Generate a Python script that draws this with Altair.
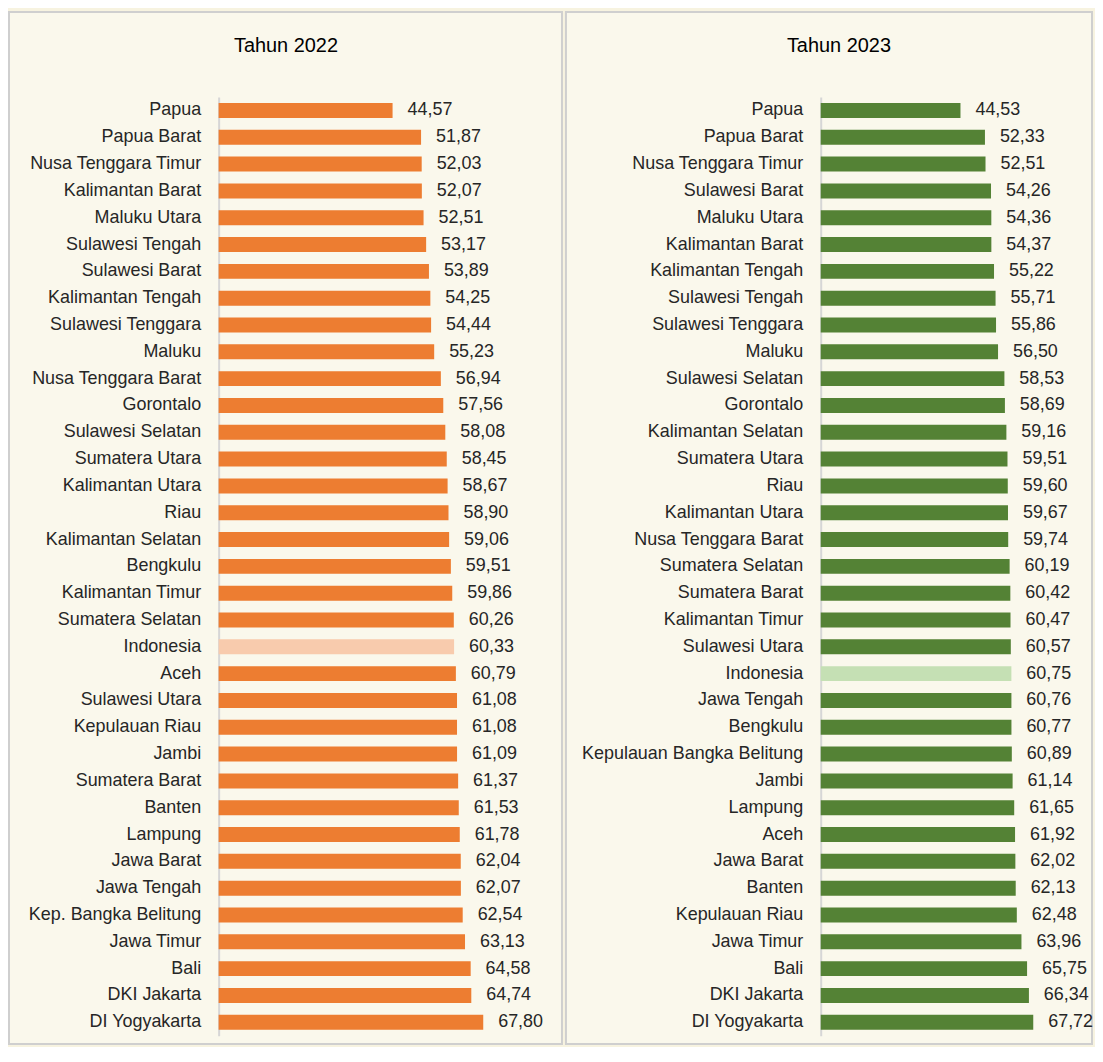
import altair as alt
import pandas as pd

# ---- data ----
prov_2022 = ["Papua", "Papua Barat", "Nusa Tenggara Timur", "Kalimantan Barat", "Maluku Utara",
             "Sulawesi Tengah", "Sulawesi Barat", "Kalimantan Tengah", "Sulawesi Tenggara", "Maluku",
             "Nusa Tenggara Barat", "Gorontalo", "Sulawesi Selatan", "Sumatera Utara", "Kalimantan Utara",
             "Riau", "Kalimantan Selatan", "Bengkulu", "Kalimantan Timur", "Sumatera Selatan",
             "Indonesia", "Aceh", "Sulawesi Utara", "Kepulauan Riau", "Jambi",
             "Sumatera Barat", "Banten", "Lampung", "Jawa Barat", "Jawa Tengah",
             "Kep. Bangka Belitung", "Jawa Timur", "Bali", "DKI Jakarta", "DI Yogyakarta"]
val_2022 = [44.57, 51.87, 52.03, 52.07, 52.51,
            53.17, 53.89, 54.25, 54.44, 55.23,
            56.94, 57.56, 58.08, 58.45, 58.67,
            58.90, 59.06, 59.51, 59.86, 60.26,
            60.33, 60.79, 61.08, 61.08, 61.09,
            61.37, 61.53, 61.78, 62.04, 62.07,
            62.54, 63.13, 64.58, 64.74, 67.80]

prov_2023 = ["Papua", "Papua Barat", "Nusa Tenggara Timur", "Sulawesi Barat", "Maluku Utara",
             "Kalimantan Barat", "Kalimantan Tengah", "Sulawesi Tengah", "Sulawesi Tenggara", "Maluku",
             "Sulawesi Selatan", "Gorontalo", "Kalimantan Selatan", "Sumatera Utara", "Riau",
             "Kalimantan Utara", "Nusa Tenggara Barat", "Sumatera Selatan", "Sumatera Barat", "Kalimantan Timur",
             "Sulawesi Utara", "Indonesia", "Jawa Tengah", "Bengkulu", "Kepulauan Bangka Belitung",
             "Jambi", "Lampung", "Aceh", "Jawa Barat", "Banten",
             "Kepulauan Riau", "Jawa Timur", "Bali", "DKI Jakarta", "DI Yogyakarta"]
val_2023 = [44.53, 52.33, 52.51, 54.26, 54.36,
            54.37, 55.22, 55.71, 55.86, 56.50,
            58.53, 58.69, 59.16, 59.51, 59.60,
            59.67, 59.74, 60.19, 60.42, 60.47,
            60.57, 60.75, 60.76, 60.77, 60.89,
            61.14, 61.65, 61.92, 62.02, 62.13,
            62.48, 63.96, 65.75, 66.34, 67.72]

titles = ["Tahun 2022", "Tahun 2023"]
highlight = "Indonesia"

FONT = "Liberation Sans"
TXT = "#262626"
H = 1036


def panel(provs, vals, title, color, light, width, xmin, xmax, axis_offset, title_x):
    df = pd.DataFrame({"prov": provs, "val": vals})
    df["label"] = [f"{v:.2f}".replace(".", ",") for v in vals]

    y_axis = alt.Axis(title=None, orient="left", offset=axis_offset, ticks=False,
                      domainColor="#D6D6D6", domainWidth=2, labelPadding=18,
                      labelFontSize=18, labelColor=TXT, labelFont=FONT, labelLimit=0,
                      grid=False)
    y_scale = alt.Scale(range=[85.5, 1027.5], paddingInner=0.442, paddingOuter=0.22)
    x_scale = alt.Scale(domain=[xmin, xmax], nice=False, zero=False)

    base = alt.Chart(df)
    bars = base.mark_bar().encode(
        x=alt.X("val:Q", scale=x_scale, axis=None),
        x2=alt.datum(0),
        y=alt.Y("prov:N", sort=provs, scale=y_scale, axis=y_axis),
        color=alt.condition(alt.datum.prov == highlight, alt.value(light), alt.value(color)),
    )
    labels = base.mark_text(align="left", baseline="middle", dx=15, fontSize=18,
                            font=FONT, color=TXT).encode(
        x=alt.X("val:Q", scale=x_scale, axis=None),
        y=alt.Y("prov:N", sort=provs),
        text="label:N",
    )
    ttl = alt.Chart(pd.DataFrame({"t": [title]})).mark_text(
        align="center", baseline="middle", fontSize=20, font=FONT, color="#000000"
    ).encode(text="t:N", x=alt.value(title_x), y=alt.value(34))

    return alt.layer(bars, labels, ttl).properties(width=width, height=H)


left = panel(prov_2022, val_2022, titles[0], "#ED7D31", "#F8CBAD",
             555, -53.71, 87.97, -210.4, 278)
right = panel(prov_2023, val_2023, titles[1], "#548235", "#C5E0B4",
              528, -81.17, 86.44, -255.7, 274)

chart = alt.hconcat(left, right, spacing=2).properties(
    padding={"left": 0, "top": 1, "right": 0, "bottom": 0},
    background="#F7F3E0",
).configure_view(
    stroke="#CFCFCF", strokeWidth=2, fill="#FAF8EC"
).resolve_scale(y="independent", x="independent")

chart.save("out.html", embed_options={"renderer": "svg", "actions": False})
